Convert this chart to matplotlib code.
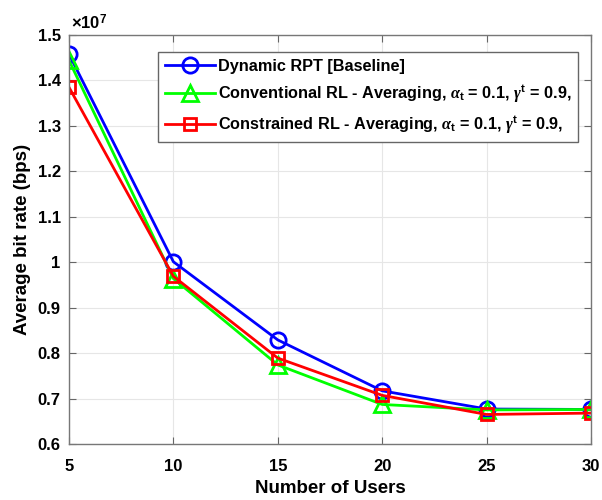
import matplotlib
matplotlib.use("Agg")
from matplotlib import pyplot as plt
from matplotlib.ticker import MultipleLocator, FuncFormatter

plt.rcParams['font.family'] = ['Liberation Sans', 'DejaVu Sans']
plt.rcParams['font.weight'] = 'bold'
plt.rcParams['mathtext.fontset'] = 'custom'
plt.rcParams['mathtext.rm'] = 'Liberation Sans:bold'
plt.rcParams['mathtext.bf'] = 'Liberation Sans:bold'
plt.rcParams['mathtext.it'] = 'Liberation Serif:italic'

users = [5, 10, 15, 20, 25, 30]

# average bit rate, in units of 1e7 bps
baseline = [1.458, 1.001, 0.829, 0.717, 0.677, 0.676]
conventional = [1.444, 0.964, 0.774, 0.687, 0.675, 0.676]
constrained = [1.385, 0.969, 0.789, 0.707, 0.665, 0.668]

labels = [
    'Dynamic RPT [Baseline]',
    r'Conventional RL - Averaging, $\alpha_{\mathrm{t}}$ = 0.1, $\gamma^{\mathrm{t}}$ = 0.9,',
    r'Constrained RL - Averaging, $\alpha_{\mathrm{t}}$ = 0.1, $\gamma^{\mathrm{t}}$ = 0.9,',
]

fig = plt.figure(figsize=(6.02, 5.0), dpi=100)
ax = fig.add_axes([69 / 602, 56 / 500, 522 / 602, 409 / 500])

style = dict(markerfacecolor='none', markeredgewidth=2, linewidth=2.0)
ax.plot(users, [v * 1e7 for v in baseline], color='#0000ff', marker='o',
        markersize=11, label=labels[0], **style)
ax.plot(users, [v * 1e7 for v in conventional], color='#00ff00', marker='^',
        markersize=11, label=labels[1], **style)
ax.plot(users, [v * 1e7 for v in constrained], color='#ff0000', marker='s',
        markersize=9, label=labels[2], **style)

ax.set_xlim(5, 30)
ax.set_ylim(0.6e7, 1.5e7)
ax.set_xticks(users)
ax.yaxis.set_major_locator(MultipleLocator(0.1e7))
ax.yaxis.set_major_formatter(FuncFormatter(lambda v, p: '%g' % round(v / 1e7, 3)))

ax.grid(True, color='#e6e6e6', linewidth=0.8)
ax.tick_params(direction='in', top=True, right=True, length=5, width=0.8,
               color='#666666', labelsize=12)
ax.tick_params(axis='y', pad=6)
ax.tick_params(axis='x', pad=11)
for s in ax.spines.values():
    s.set_color('#777777')
    s.set_linewidth(1.0)

# exponent shown above the y axis
ax.text(0.004, 1.006, r'$\times10^{7}$', transform=ax.transAxes,
        ha='left', va='bottom', fontsize=12)

ax.set_xlabel('Number of Users', fontsize=13.5, fontweight='bold', labelpad=4)
ax.set_ylabel('Average bit rate (bps)', fontsize=13.5, fontweight='bold', labelpad=5)

leg = ax.legend(loc='upper left', bbox_to_anchor=(0.1705, 0.958), fontsize=11.7,
                fancybox=False, framealpha=1, edgecolor='#666666',
                borderpad=0.4, labelspacing=0.6, handlelength=3.1,
                handletextpad=0.2, borderaxespad=0)
leg.get_frame().set_linewidth(1.0)

fig.savefig('out.png', dpi=100)
